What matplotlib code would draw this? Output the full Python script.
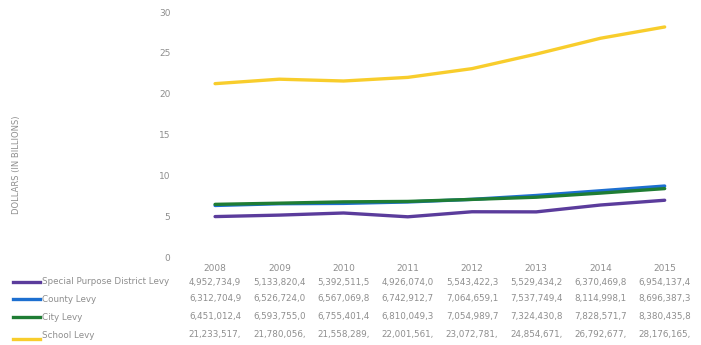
import matplotlib
matplotlib.use("Agg")
from matplotlib import pyplot as plt
import matplotlib.transforms as mtransforms

years = ["2008", "2009", "2010", "2011", "2012", "2013", "2014", "2015"]

# levy amounts in thousands of dollars
special_district = [4952734.9, 5133820.4, 5392511.5, 4926074.0, 5543422.3, 5529434.2, 6370469.8, 6954137.4]
county = [6312704.9, 6526724.0, 6567069.8, 6742912.7, 7064659.1, 7537749.4, 8114998.1, 8696387.3]
city = [6451012.4, 6593755.0, 6755401.4, 6810049.3, 7054989.7, 7324430.8, 7828571.7, 8380435.8]
school = [21233517, 21780056, 21558289, 22001561, 23072781, 24854671, 26792677, 28176165]

series = [
    ("Special Purpose District Levy", special_district, "#5b3c9c"),
    ("County Levy", county, "#1d6fd0"),
    ("City Levy", city, "#1f7d34"),
    ("School Levy", school, "#f8cd2c"),
]

plt.rcParams['font.family'] = ['DejaVu Sans']
gray = "#8e8e8e"

fig = plt.figure(figsize=(7.01, 3.45), dpi=100)
ax = fig.add_axes([0.261, 0.255, 0.733, 0.71])

x = list(range(len(years)))
for label, vals, color in series:
    ax.plot(x, [v / 1e6 for v in vals], color=color, linewidth=2.4, solid_capstyle="round")

ax.set_ylim(0, 30)
ax.set_xlim(-0.5, 7.5)
ax.set_yticks([0, 5, 10, 15, 20, 25, 30])
ax.set_xticks(x)
ax.set_xticklabels(years)
ax.tick_params(length=0, labelsize=6.5, colors=gray)
ax.tick_params(axis="y", pad=9)
ax.tick_params(axis="x", pad=5)
for s in ax.spines.values():
    s.set_visible(False)

fig.text(0.024, 0.522, "DOLLARS (IN BILLIONS)", rotation=90, ha="center", va="center",
         fontsize=6, color=gray)

# data table under the chart
trans = mtransforms.blended_transform_factory(ax.transData, fig.transFigure)
row_y = [282, 299, 317, 335]
for (label, vals, color), yp in zip(series, row_y):
    yf = 1 - yp / 345
    line_y = yf if label != "School Levy" else 1 - 339 / 345
    fig.add_artist(plt.Line2D([13 / 701, 40 / 701], [line_y, line_y], color=color,
                              linewidth=2.4, transform=fig.transFigure))
    fig.text(42 / 701, yf, label, ha="left", va="center", fontsize=6.3, color=gray)
    for i, v in enumerate(vals):
        txt = f"{v * 1000:,.0f}"[:11]
        fig.text(i, yf, txt, transform=trans, ha="center", va="center", fontsize=6.3, color=gray)

fig.savefig("out.png", dpi=100)
